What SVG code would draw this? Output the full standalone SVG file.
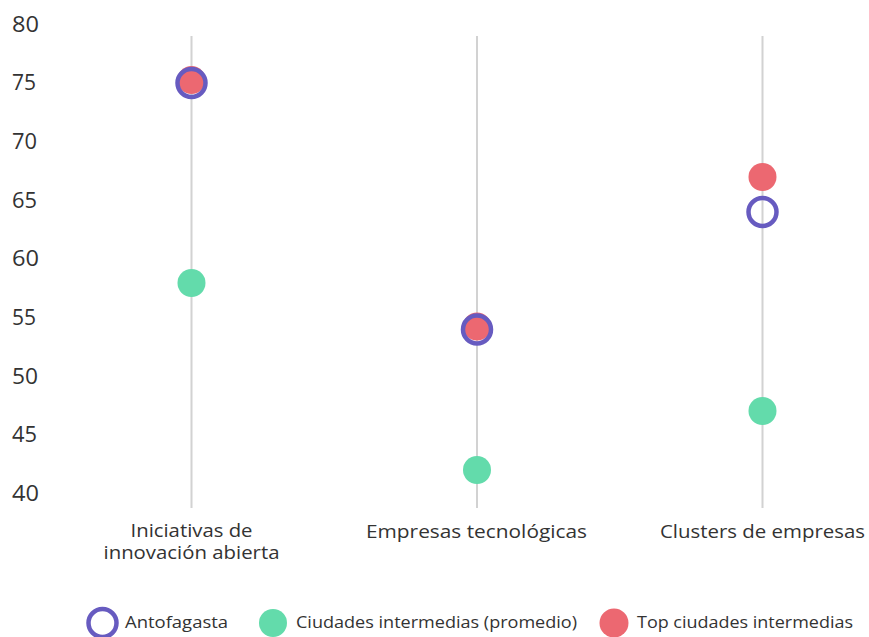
<svg xmlns="http://www.w3.org/2000/svg" width="869" height="637" viewBox="0 0 869 637">
<style>
.tick{font-family:"Open Sans","Noto Sans",sans-serif;font-size:21px;fill:#333}
.cat{font-family:"Open Sans","Noto Sans",sans-serif;font-size:18px;fill:#333;text-anchor:middle}
.leg{font-family:"Open Sans","Noto Sans",sans-serif;font-size:16.5px;fill:#333}
.grid{stroke:#d2d2d2;stroke-width:2}
.anto{fill:none;stroke:#675BC0;stroke-width:4.5}
.prom{fill:#63DBAB}
.top{fill:#EC6871}
</style>
<rect width="869" height="637" fill="#fff"/>
<g id="axis-y">
<text class="tick" x="12" y="31.5" textLength="27" lengthAdjust="spacingAndGlyphs">80</text>
<text class="tick" x="12" y="90" textLength="24" lengthAdjust="spacingAndGlyphs">75</text>
<text class="tick" x="12" y="149" textLength="25" lengthAdjust="spacingAndGlyphs">70</text>
<text class="tick" x="12" y="207.5" textLength="25" lengthAdjust="spacingAndGlyphs">65</text>
<text class="tick" x="12" y="266" textLength="27" lengthAdjust="spacingAndGlyphs">60</text>
<text class="tick" x="12" y="325" textLength="24" lengthAdjust="spacingAndGlyphs">55</text>
<text class="tick" x="12" y="383.5" textLength="26" lengthAdjust="spacingAndGlyphs">50</text>
<text class="tick" x="12" y="442" textLength="25" lengthAdjust="spacingAndGlyphs">45</text>
<text class="tick" x="12" y="501" textLength="27" lengthAdjust="spacingAndGlyphs">40</text>
</g>
<g id="connectors">
<line class="grid" x1="191.5" y1="36" x2="191.5" y2="508"/>
<line class="grid" x1="477" y1="36" x2="477" y2="508"/>
<line class="grid" x1="762.5" y1="36" x2="762.5" y2="508"/>
</g>
<g id="cat-1">
<circle class="prom" cx="191.5" cy="283" r="14"/>
<circle class="top" cx="191.5" cy="80" r="14"/>
<circle class="anto" cx="191.5" cy="83" r="14"/>
<text class="cat" x="191.5" y="537" textLength="122" lengthAdjust="spacingAndGlyphs">Iniciativas de</text>
<text class="cat" x="191.5" y="559" textLength="176" lengthAdjust="spacingAndGlyphs">innovación abierta</text>
</g>
<g id="cat-2">
<circle class="prom" cx="477" cy="470" r="14"/>
<circle class="top" cx="477" cy="326.5" r="14"/>
<circle class="anto" cx="477" cy="329.5" r="14"/>
<text class="cat" x="476.5" y="538" textLength="221" lengthAdjust="spacingAndGlyphs">Empresas tecnológicas</text>
</g>
<g id="cat-3">
<circle class="prom" cx="762.5" cy="411" r="14"/>
<circle class="top" cx="762.5" cy="177" r="14"/>
<circle class="anto" cx="762.5" cy="212" r="14"/>
<text class="cat" x="762.5" y="538" textLength="205" lengthAdjust="spacingAndGlyphs">Clusters de empresas</text>
</g>
<g id="legend">
<circle class="anto" cx="102.5" cy="623" r="14"/>
<text class="leg" x="125" y="628" textLength="103" lengthAdjust="spacingAndGlyphs">Antofagasta</text>
<circle class="prom" cx="273" cy="623" r="14"/>
<text class="leg" x="296" y="628" textLength="281" lengthAdjust="spacingAndGlyphs">Ciudades intermedias (promedio)</text>
<circle class="top" cx="614" cy="623" r="14.5"/>
<text class="leg" x="637" y="628" textLength="216" lengthAdjust="spacingAndGlyphs">Top ciudades intermedias</text>
</g>
</svg>
